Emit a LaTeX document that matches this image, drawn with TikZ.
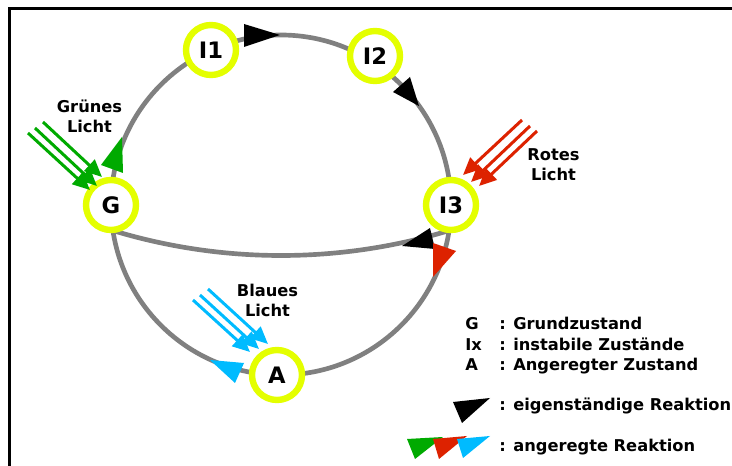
\documentclass[tikz,border=0pt]{standalone}
\usepackage{fontspec}
\setmainfont{DejaVu Sans}
\usetikzlibrary{arrows.meta}
\definecolor{ringc}{RGB}{228,255,0}
\definecolor{linkc}{RGB}{128,128,128}
\definecolor{grn}{RGB}{0,170,0}
\definecolor{rd}{RGB}{221,34,0}
\definecolor{blu}{RGB}{0,187,255}
\pgfdeclarelayer{bg}
\pgfsetlayers{bg,main}
\begin{document}
\begin{tikzpicture}[x=0.75pt,y=-0.75pt,
  state/.style={circle, draw=ringc, line width=4.8pt, fill=white, minimum size=37.5pt,
    inner sep=0pt, outer sep=0pt, font=\fontsize{17}{20}\selectfont\bfseries},
  link/.style={draw=linkc, line width=3.5pt},
  lbl/.style={font=\fontsize{12.2}{14}\selectfont\bfseries, inner sep=0pt, anchor=base},
  leg/.style={font=\fontsize{12.2}{14}\selectfont\bfseries, inner sep=0pt, anchor=base west},
  ray/.style={line width=2.25pt, -{Triangle[length=13pt,width=11.5pt]}}]
\useasboundingbox (0,0) rectangle (732,466);
\draw[line width=2.25pt, line join=miter] (9,480) -- (9,9) -- (745,9);
% states
\node[state] (G)  at (111,205) {G};
\node[state] (I1) at (211,50) {I1};
\node[state] (I2) at (375,56) {I2};
\node[state] (I3) at (451,205) {I3};
\node[state] (A)  at (277,375) {A};
% connectors
\begin{pgfonlayer}{bg}
\fill[white] (0,0) rectangle (732,466);
\draw[link] (G.center) arc[start angle=180, delta angle=180, radius=170];
\draw[link] (I3.center) arc[start angle=0, delta angle=180, radius=170];
\draw[link] (G.south) .. controls (222,264) and (340,264) .. (I3.south);
\end{pgfonlayer}
% arrowheads on the connectors
\fill[black] (244,24) -- (244,47) -- (280,35) -- cycle;
\fill[black] (393,92) -- (410,77) -- (419,106) -- cycle;
\fill[grn] (122,137) -- (123,173) -- (101,165) -- cycle;
\fill[black] (402,246) -- (430,228) -- (435,249) -- cycle;
\fill[rd] (433,243) -- (456,251) -- (433,277) -- cycle;
\fill[blu] (210,360) -- (244,363) -- (235,383) -- cycle;
% light rays
\draw[ray, grn] (28,133) -- (90,190);
\draw[ray, grn] (35,128) -- (97,186);
\draw[ray, grn] (43,122) -- (102,177);
\draw[ray, rd] (522,120) -- (463,175);
\draw[ray, rd] (530,126) -- (471,182);
\draw[ray, rd] (537,131) -- (479,186);
\draw[ray, blu] (193,300) -- (250,352);
\draw[ray, blu] (200,295) -- (259,349);
\draw[ray, blu] (208,289) -- (268,344);
% light labels
\node[lbl] (gr1) at (89.5,113) {Grünes};
\node[lbl] (gr2) at (89.5,133) {Licht};
\node[lbl] (ro1) at (553.5,161) {Rotes};
\node[lbl] (ro2) at (553.5,181) {Licht};
\node[lbl] (bl1) at (267.5,297) {Blaues};
\node[lbl] (bl2) at (267.5,317) {Licht};
% legend
\node[leg] (lG)  at (465,330) {G};
\node[leg] (lGt) at (499,330) {: Grundzustand};
\node[leg] (lI)  at (465,350.5) {Ix};
\node[leg] (lIt) at (499,350.5) {: instabile Zustände};
\node[leg] (lA)  at (465,371) {A};
\node[leg] (lAt) at (499,371) {: Angeregter Zustand};
\fill[black] (453,402) -- (490,398) -- (462,423) -- cycle;
\node[leg] (lE) at (499,411) {: eigenständige Reaktion};
\fill[grn] (407,439) -- (443,437) -- (415,459) -- cycle;
\fill[rd] (433,439) -- (467,436) -- (439,459) -- cycle;
\fill[blu] (457,439) -- (490,436) -- (463,458) -- cycle;
\node[leg] (lR) at (499,451) {: angeregte Reaktion};
\end{tikzpicture}
\end{document}
